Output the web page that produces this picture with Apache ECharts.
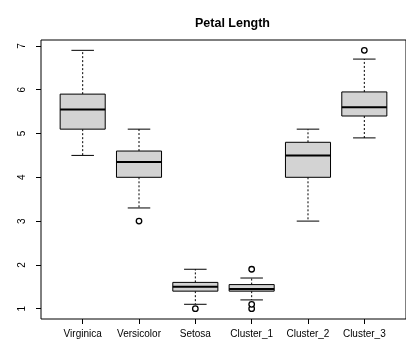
<!DOCTYPE html>
<html>
<head>
<meta charset="utf-8">
<script src="https://cdn.jsdelivr.net/npm/echarts@6/dist/echarts.min.js"></script>
<style>
  html, body { margin: 0; padding: 0; background: #fff; }
  #chart { width: 406px; height: 341px; }
</style>
</head>
<body>
<div id="chart"></div>
<script>
// Petal length by species and by cluster: five-number summaries plus outliers
const categories = ['Virginica', 'Versicolor', 'Setosa', 'Cluster_1', 'Cluster_2', 'Cluster_3'];
const whiskerLow  = [4.5, 3.3, 1.1, 1.2, 3.0, 4.9];
const lowerHinge  = [5.1, 4.0, 1.4, 1.4, 4.0, 5.4];
const medians     = [5.55, 4.35, 1.5, 1.45, 4.5, 5.6];
const upperHinge  = [5.9, 4.6, 1.6, 1.55, 4.8, 5.95];
const whiskerHigh = [6.9, 5.1, 1.9, 1.7, 5.1, 6.7];

// outliers: group position (1-based) and value
const outlierGroup = [2, 3, 4, 4, 4, 6];
const outlierValue = [3.0, 1.0, 1.9, 1.0, 1.1, 6.9];

const yTicks = [1, 2, 3, 4, 5, 6, 7];
const xTicks = categories.map((c, i) => i + 1);

const boxData = categories.map((c, i) => [i + 1, whiskerLow[i], lowerHinge[i], medians[i], upperHinge[i], whiskerHigh[i]]);
const outlierData = outlierGroup.map((g, i) => [g, outlierValue[i]]);

const BOX_HALF = 0.4;
const CAP_HALF = 0.2;

function renderBox(params, api) {
  const x = api.value(0);
  const wLo = api.value(1), q1 = api.value(2), med = api.value(3), q3 = api.value(4), wHi = api.value(5);
  const pL = api.coord([x - BOX_HALF, q3]);
  const pR = api.coord([x + BOX_HALF, q1]);
  const c = api.coord([x, med]);
  const capL = api.coord([x - CAP_HALF, wLo])[0];
  const capR = api.coord([x + CAP_HALF, wLo])[0];
  const yLo = api.coord([x, wLo])[1];
  const yHi = api.coord([x, wHi])[1];
  const yQ1 = pR[1], yQ3 = pL[1];
  const line = { stroke: '#000', lineWidth: 1 };
  const dashed = { stroke: '#000', lineWidth: 1, lineDash: [2, 2] };
  return {
    type: 'group',
    children: [
      { type: 'line', shape: { x1: c[0], y1: yQ3, x2: c[0], y2: yHi }, style: dashed },
      { type: 'line', shape: { x1: c[0], y1: yQ1, x2: c[0], y2: yLo }, style: dashed },
      { type: 'line', shape: { x1: capL, y1: yHi, x2: capR, y2: yHi }, style: line },
      { type: 'line', shape: { x1: capL, y1: yLo, x2: capR, y2: yLo }, style: line },
      { type: 'rect', shape: { x: pL[0], y: yQ3, width: pR[0] - pL[0], height: yQ1 - yQ3 },
        style: { fill: '#d3d3d3', stroke: '#000', lineWidth: 1 } },
      { type: 'line', shape: { x1: pL[0], y1: c[1], x2: pR[0], y2: c[1] }, style: { stroke: '#000', lineWidth: 2 } }
    ]
  };
}

const chart = echarts.init(document.getElementById('chart'), null, { renderer: 'canvas' });
chart.setOption({
  animation: false,
  backgroundColor: '#fff',
  textStyle: { fontFamily: 'Liberation Sans, Arial, sans-serif' },
  title: {
    text: 'Petal Length',
    left: 190,
    top: 12,
    textStyle: { fontSize: 12.5, fontWeight: 'bold', color: '#000', fontFamily: 'Liberation Sans, Arial, sans-serif' }
  },
  grid: {
    show: true,
    left: 41,
    top: 40,
    width: 374,
    height: 279,
    borderColor: '#000',
    borderWidth: 1,
    backgroundColor: 'transparent',
    containLabel: false
  },
  xAxis: {
    type: 'value',
    min: 0.26,
    max: 6.74,
    splitLine: { show: false },
    axisLine: { show: false },
    axisTick: { show: true, customValues: xTicks, length: 5, lineStyle: { color: '#000' } },
    axisLabel: {
      customValues: xTicks,
      margin: 10,
      fontSize: 10,
      color: '#000',
      formatter: v => categories[Math.round(v) - 1] || ''
    }
  },
  yAxis: {
    type: 'value',
    min: 0.764,
    max: 7.136,
    splitLine: { show: false },
    axisLine: { show: false },
    axisTick: { show: true, customValues: yTicks, length: 5, lineStyle: { color: '#000' } },
    axisLabel: {
      customValues: yTicks,
      rotate: 90,
      margin: 14,
      fontSize: 10,
      color: '#000'
    }
  },
  series: [
    {
      type: 'custom',
      renderItem: renderBox,
      data: boxData,
      encode: { x: 0, y: [1, 2, 3, 4, 5] },
      clip: false
    },
    {
      type: 'scatter',
      data: outlierData,
      symbol: 'circle',
      symbolSize: 5.5,
      itemStyle: { color: '#fff', borderColor: '#000', borderWidth: 1.3, opacity: 1 }
    }
  ]
});
</script>
</body>
</html>
